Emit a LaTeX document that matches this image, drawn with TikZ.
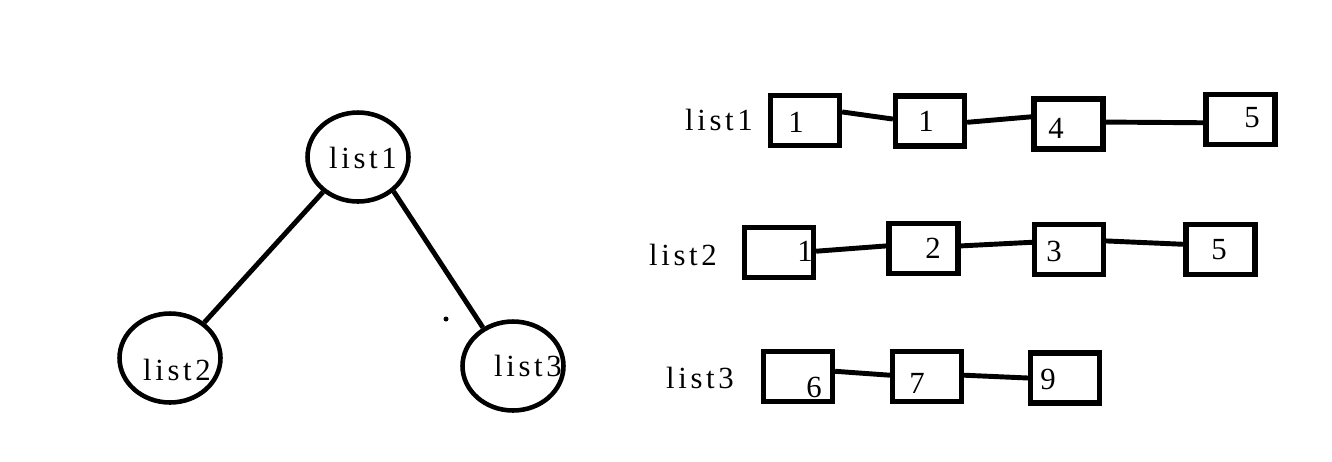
\documentclass[tikz,border=0pt]{standalone}
\usepackage{fontspec}
\newfontfamily\handfont[LetterSpace=12]{Liberation Serif}
\usepackage{tikz}
\usetikzlibrary{shapes.geometric}

\begin{document}
\begin{tikzpicture}[
  x=0.02cm,
  y=-0.02cm,
  listnode/.style={
    ellipse,
    draw=black,
    line width=2.6pt,
    inner sep=0pt,
    minimum width=2.02cm,
    minimum height=1.78cm
  },
  cell/.style={
    rectangle,
    draw=black,
    line width=3pt,
    inner sep=0pt,
    minimum width=1.38cm,
    minimum height=1.0cm
  },
  word/.style={
    inner sep=0pt,
    font=\handfont\fontsize{17.5}{20}\selectfont
  },
  link/.style={line width=2.8pt}
]
\useasboundingbox (0,0) rectangle (1332,461);

% Left: tree of lists
\node[listnode] (l1) at (358,157) {};
\node[listnode] (l2) at (170,358) {};
\node[listnode] (l3) at (513,366) {};
\node[word] (l1t) at (363,158) {list1};
\node[word] (l2t) at (177,370) {list2};
\node[word] (l3t) at (528,366) {list3};
\node[circle, fill=black, inner sep=0pt, minimum size=0.1cm] (dot) at (446,319) {};

\draw[link] (l1.-135) -- (l2.46);
\draw[link] (l1.-44) -- (l3.128);

% Row 1: list1
\node[word] (r1) at (719,120) {list1};
\node[cell] (a) at (805,120.5) {};
\node[cell] (b) at (930,121) {};
\node[cell] (c) at (1068.5,124) {};
\node[cell] (d) at (1240.5,119.5) {};
\node[word] (at) at (796,122) {1};
\node[word] (bt) at (926,121) {1};
\node[word] (ct) at (1056,128) {4};
\node[word] (dt) at (1252,118) {5};

% Row 2: list2
\node[word] (r2) at (683,255) {list2};
\node[cell] (e) at (779,252.5) {};
\node[cell] (f) at (923.5,248.5) {};
\node[cell] (g) at (1069,249.5) {};
\node[cell] (h) at (1220.5,249.5) {};
\node[word] (et) at (805,251) {1};
\node[word] (ft) at (933,248) {2};
\node[word] (gt) at (1054,251) {3};
\node[word] (ht) at (1219,250) {5};

% Row 3: list3
\node[word] (r3) at (700,378) {list3};
\node[cell] (i) at (798,376.5) {};
\node[cell] (j) at (927,376.5) {};
\node[cell] (k) at (1065,378) {};
\node[word] (it) at (814,387) {6};
\node[word] (jt) at (917,383) {7};
\node[word] (kt) at (1048,379) {9};

\draw[link] (a.13) -- (b.177);
\draw[link] (b.-2) -- (c.169);
\draw[link] (c.3) -- (d.185);
\draw[link] (e.2) -- (f.176);
\draw[link] (f.4) -- (g.169);
\draw[link] (g.13) -- (h.172);
\draw[link] (i.8) -- (j.178);
\draw[link] (j.2) -- (k.west);
\end{tikzpicture}
\end{document}
